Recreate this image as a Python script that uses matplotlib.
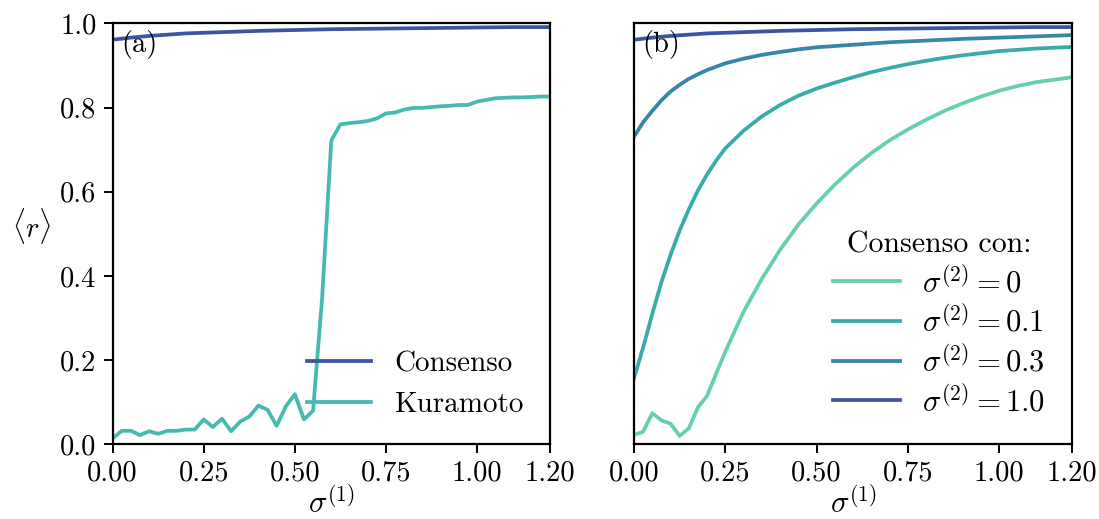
import matplotlib
matplotlib.use("Agg")
import matplotlib.pyplot as plt

plt.rcParams.update({
    "font.family": "serif",
    "font.serif": ["cmr10", "DejaVu Serif"],
    "mathtext.fontset": "cm",
    "axes.formatter.use_mathtext": True,
    "font.size": 20.5,
    "axes.linewidth": 1.6,
    "xtick.major.size": 6.5,
    "ytick.major.size": 6.5,
    "xtick.major.width": 1.4,
    "ytick.major.width": 1.4,
    "xtick.major.pad": 5,
    "ytick.major.pad": 5,
})

# ---- panel (a): order parameter vs sigma^(1) ----
x_kur = [0.000, 0.025, 0.050, 0.075, 0.100, 0.125, 0.150, 0.175, 0.200, 0.225,
         0.250, 0.275, 0.300, 0.325, 0.350, 0.375, 0.400, 0.425, 0.450, 0.475,
         0.500, 0.525, 0.550, 0.575, 0.600, 0.625, 0.650, 0.675, 0.700, 0.725,
         0.750, 0.775, 0.800, 0.825, 0.850, 0.875, 0.900, 0.925, 0.950, 0.975,
         1.000, 1.025, 1.050, 1.075, 1.100, 1.125, 1.150, 1.175, 1.200]
r_kur = [0.014, 0.032, 0.032, 0.022, 0.031, 0.025, 0.032, 0.032, 0.035, 0.035,
         0.059, 0.041, 0.061, 0.031, 0.054, 0.066, 0.092, 0.082, 0.044, 0.090,
         0.119, 0.059, 0.080, 0.350, 0.722, 0.760, 0.763, 0.765, 0.768, 0.774,
         0.786, 0.788, 0.795, 0.799, 0.799, 0.801, 0.803, 0.804, 0.806, 0.806,
         0.814, 0.818, 0.822, 0.823, 0.824, 0.824, 0.825, 0.826, 0.826]

# ---- consensus curves for several sigma^(2) ----
x_s0 = [0.000, 0.025, 0.050, 0.075, 0.100, 0.125, 0.150, 0.175, 0.200, 0.225,
        0.250, 0.300, 0.350, 0.400, 0.450, 0.500, 0.550, 0.600, 0.650, 0.700,
        0.750, 0.800, 0.850, 0.900, 0.950, 1.000, 1.050, 1.100, 1.150, 1.200]
r_s0 = [0.022, 0.030, 0.074, 0.057, 0.049, 0.020, 0.038, 0.088, 0.115, 0.168,
        0.220, 0.315, 0.393, 0.462, 0.522, 0.572, 0.617, 0.657, 0.692, 0.722,
        0.748, 0.771, 0.792, 0.810, 0.826, 0.840, 0.851, 0.860, 0.866, 0.872]

x_s01 = [0.000, 0.025, 0.050, 0.075, 0.100, 0.125, 0.150, 0.175, 0.200, 0.225,
         0.250, 0.300, 0.350, 0.400, 0.450, 0.500, 0.550, 0.600, 0.650, 0.700,
         0.750, 0.800, 0.850, 0.900, 0.950, 1.000, 1.050, 1.100, 1.150, 1.200]
r_s01 = [0.157, 0.230, 0.310, 0.385, 0.450, 0.508, 0.558, 0.603, 0.641, 0.674,
         0.703, 0.745, 0.779, 0.806, 0.828, 0.845, 0.859, 0.872, 0.884, 0.894,
         0.903, 0.911, 0.918, 0.924, 0.929, 0.934, 0.937, 0.940, 0.942, 0.944]

x_s03 = [0.000, 0.025, 0.050, 0.075, 0.100, 0.125, 0.150, 0.175, 0.200, 0.250,
         0.300, 0.350, 0.400, 0.450, 0.500, 0.600, 0.700, 0.800, 0.900, 1.000,
         1.100, 1.200]
r_s03 = [0.731, 0.765, 0.792, 0.817, 0.838, 0.854, 0.868, 0.879, 0.889, 0.905,
         0.916, 0.925, 0.932, 0.938, 0.943, 0.949, 0.955, 0.959, 0.963, 0.966,
         0.969, 0.972]

x_s1 = [0.000, 0.050, 0.100, 0.150, 0.200, 0.300, 0.400, 0.500, 0.600, 0.700,
        0.800, 0.900, 1.000, 1.100, 1.200]
r_s1 = [0.961, 0.966, 0.970, 0.973, 0.976, 0.979, 0.982, 0.984, 0.986, 0.987,
        0.988, 0.989, 0.990, 0.991, 0.991]

sigma2_labels = [r"$\sigma^{(2)} = 0$", r"$\sigma^{(2)} = 0.1$",
                 r"$\sigma^{(2)} = 0.3$", r"$\sigma^{(2)} = 1.0$"]

xticks = [0.0, 0.25, 0.5, 0.75, 1.0, 1.2]
xticklabels = ["0.00", "0.25", "0.50", "0.75", "1.00", "1.20"]
yticks = [0.0, 0.2, 0.4, 0.6, 0.8, 1.0]
yticklabels = ["0.0", "0.2", "0.4", "0.6", "0.8", "1.0"]

c_cons = "#3b55a0"
c_kur = "#45bab0"
colors_s2 = ["#66d1a8", "#3aabab", "#3686a8", "#3b55a0"]
lw = 2.7

fig = plt.figure(figsize=(10.99, 5.19), dpi=100)
ax1 = fig.add_axes([0.1025, 0.1439, 0.3979, 0.8112])
ax2 = fig.add_axes([0.5769, 0.1439, 0.3988, 0.8112])

ax1.plot(x_s1, r_s1, color=c_cons, lw=lw, label="Consenso")
ax1.plot(x_kur, r_kur, color=c_kur, lw=lw, label="Kuramoto")
ax1.legend(loc="lower right", frameon=False, handlelength=2.2, fontsize=21)
ax1.set_ylabel(r"$\langle r\rangle$", rotation=0, ha="center", va="center")
ax1.yaxis.set_label_coords(-0.185, 0.518)
ax1.set_yticks(yticks, yticklabels)
ax1.text(0.019, 0.985, "(a)", transform=ax1.transAxes, ha="left", va="top")

series = [(x_s0, r_s0), (x_s01, r_s01), (x_s03, r_s03), (x_s1, r_s1)]
for (xs, rs), col, lab in zip(series, colors_s2, sigma2_labels):
    ax2.plot(xs, rs, color=col, lw=lw, label=lab)
ax2.legend(loc="lower right", frameon=False, handlelength=2.2,
           title="Consenso con:", fontsize=22, title_fontsize=21.5,
           labelspacing=0.22, handletextpad=0.7)
ax2.tick_params(axis="y", left=False, labelleft=False)
ax2.text(0.019, 0.985, "(b)", transform=ax2.transAxes, ha="left", va="top")

for ax in (ax1, ax2):
    ax.set_xlim(0, 1.2)
    ax.set_ylim(0, 1.0)
    ax.set_xticks(xticks, xticklabels)
    ax.set_xlabel(r"$\sigma^{(1)}$", fontsize=22, labelpad=0)

fig.savefig("out.png", dpi=100)
